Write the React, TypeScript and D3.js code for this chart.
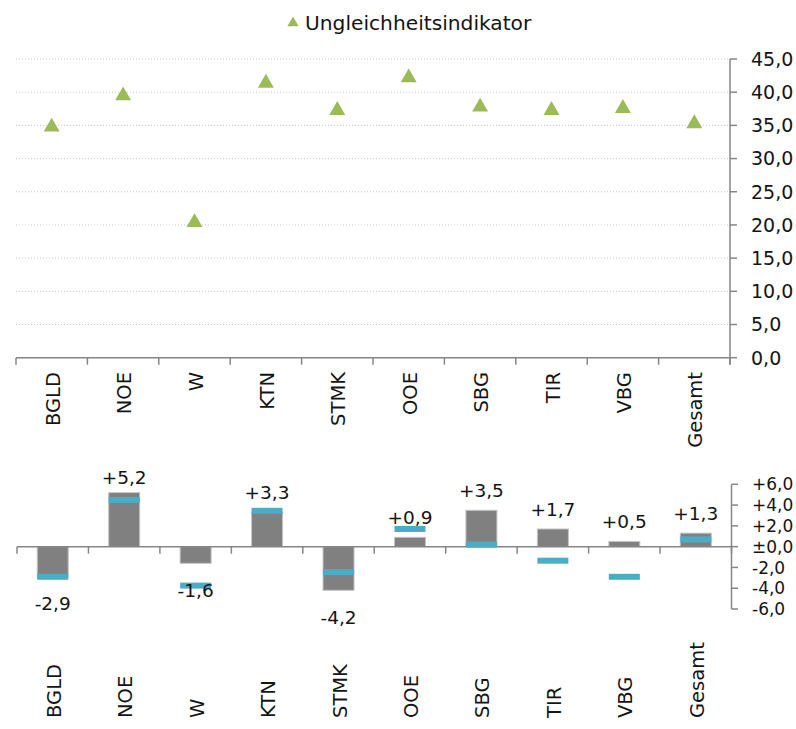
import React from "react";
import * as d3 from "d3";

const categories = ["BGLD", "NOE", "W", "KTN", "STMK", "OOE", "SBG", "TIR", "VBG", "Gesamt"];
const indicator = [35.0, 39.7, 20.6, 41.6, 37.5, 42.4, 38.0, 37.5, 37.8, 35.5];
const changeBars = [-2.9, 5.2, -1.6, 3.3, -4.2, 0.9, 3.5, 1.7, 0.5, 1.3];
const changeMarkers = [-2.9, 4.5, -3.75, 3.45, -2.45, 1.7, 0.2, -1.35, -2.9, 0.7];
const topTicks = [0, 5, 10, 15, 20, 25, 30, 35, 40, 45];
const bottomTicks = [-6, -4, -2, 0, 2, 4, 6];
const legendLabel = "Ungleichheitsindikator";

const locale = d3.formatLocale({
  decimal: ",",
  thousands: ".",
  grouping: [3],
  currency: ["", " €"],
  minus: "-",
});
const fmt1 = locale.format(".1f");
const fmtSigned = (v: number) => (v === 0 ? "±0,0" : locale.format("+.1f")(v));

const FONT = "'DejaVu Sans', sans-serif";
const GREEN = "#9bbb59";
const CYAN = "#4bacc6";
const AXIS = "#868686";
const TEXT = "#141414";

export default function App() {
  const W = 796;
  const H = 729;

  const xTop = d3.scaleBand<string>().domain(categories).range([16, 730]).padding(0);
  const yTop = d3.scaleLinear().domain([0, 45]).range([357.7, 59]);

  const xBot = d3.scaleBand<string>().domain(categories).range([17, 731.5]).padding(0);
  const yBot = d3.scaleLinear().domain([-6, 6]).range([609, 484.3]);

  const tri = d3.symbol().type(d3.symbolTriangle).size(110);
  const triLegend = d3.symbol().type(d3.symbolTriangle).size(55);

  const barW = 31;
  const markW = 31;
  const markH = 6;

  const boundaries = (x: d3.ScaleBand<string>) => {
    const arr = categories.map((c) => x(c) as number);
    arr.push(x.range()[1]);
    return arr;
  };

  return (
    <svg width={W} height={H} style={{ display: "block", position: "absolute", left: 0, top: 0 }} fontFamily={FONT}>
      <rect x={0} y={0} width={W} height={H} fill="#fff" />
      <g>
        <path d={triLegend() as string} transform="translate(293,23)" fill={GREEN} />
        <text x={305} y={30} fontSize={20.2} fill={TEXT}>
          {legendLabel}
        </text>
      </g>

      {topTicks.slice(1).map((t) => (
        <line
          key={"g" + t}
          x1={16}
          x2={730}
          y1={yTop(t)}
          y2={yTop(t)}
          stroke="#c8c8c8"
          strokeWidth={1}
          strokeDasharray="1,2"
        />
      ))}

      <line x1={16} x2={730} y1={yTop(0)} y2={yTop(0)} stroke={AXIS} strokeWidth={1.5} />
      {boundaries(xTop).map((bx, i) => (
        <line key={"tx" + i} x1={bx} x2={bx} y1={yTop(0)} y2={yTop(0) + 7} stroke={AXIS} strokeWidth={1.5} />
      ))}
      <line x1={730} x2={730} y1={yTop(45)} y2={yTop(0) + 7} stroke={AXIS} strokeWidth={1.5} />
      {topTicks.map((t) => (
        <g key={"ty" + t}>
          <line x1={730} x2={737} y1={yTop(t)} y2={yTop(t)} stroke={AXIS} strokeWidth={1.5} />
          <text x={751} y={yTop(t)} dy="0.36em" fontSize={19} fill={TEXT}>
            {fmt1(t)}
          </text>
        </g>
      ))}
      {categories.map((c) => {
        const cx = (xTop(c) as number) + xTop.bandwidth() / 2;
        return (
          <text
            key={"tc" + c}
            transform={`translate(${cx + 1},372) rotate(-90)`}
            textAnchor="end"
            dy="0.36em"
            fontSize={19.5}
            fill={TEXT}
          >
            {c}
          </text>
        );
      })}
      {categories.map((c, i) => {
        const cx = (xTop(c) as number) + xTop.bandwidth() / 2;
        return (
          <path key={"tri" + c} d={tri() as string} transform={`translate(${cx},${yTop(indicator[i]) + 1.5})`} fill={GREEN} />
        );
      })}

      {categories.map((c, i) => {
        const cx = (xBot(c) as number) + xBot.bandwidth() / 2;
        const v = changeBars[i];
        const y0 = yBot(0);
        const y1 = yBot(v);
        return (
          <rect
            key={"b" + c}
            x={cx - barW / 2}
            y={Math.min(y0, y1)}
            width={barW}
            height={Math.abs(y1 - y0)}
            fill="#808080"
            stroke="#c4c4c4"
            strokeWidth={1}
          />
        );
      })}
      <line x1={17} x2={731.5} y1={yBot(0)} y2={yBot(0)} stroke={AXIS} strokeWidth={1.5} />
      {boundaries(xBot).map((bx, i) => (
        <line key={"bx" + i} x1={bx} x2={bx} y1={yBot(0)} y2={yBot(0) + 7} stroke={AXIS} strokeWidth={1.5} />
      ))}
      {categories.map((c, i) => {
        const cx = (xBot(c) as number) + xBot.bandwidth() / 2;
        return (
          <rect
            key={"m" + c}
            x={cx - markW / 2}
            y={yBot(changeMarkers[i]) - markH / 2}
            width={markW}
            height={markH}
            fill={CYAN}
          />
        );
      })}
      <line x1={731.5} x2={731.5} y1={yBot(6)} y2={yBot(-6)} stroke={AXIS} strokeWidth={1.5} />
      {bottomTicks.map((t) => (
        <g key={"by" + t}>
          <line x1={731.5} x2={738} y1={yBot(t)} y2={yBot(t)} stroke={AXIS} strokeWidth={1.5} />
          <text x={752} y={yBot(t)} dy="0.36em" fontSize={17} fill={TEXT}>
            {fmtSigned(t)}
          </text>
        </g>
      ))}
      {categories.map((c, i) => {
        const cx = (xBot(c) as number) + xBot.bandwidth() / 2;
        const v = changeBars[i];
        const ly = v >= 0 ? Math.max(yBot(v) - 20, 477) : yBot(v) + 27;
        return (
          <text key={"dl" + c} x={cx} y={ly} dy="0.36em" textAnchor="middle" fontSize={18.5} fill={TEXT}>
            {fmtSigned(v)}
          </text>
        );
      })}
      {categories.map((c) => {
        const cx = (xBot(c) as number) + xBot.bandwidth() / 2;
        return (
          <text
            key={"bc" + c}
            transform={`translate(${cx + 1},718) rotate(-90)`}
            textAnchor="start"
            dy="0.36em"
            fontSize={19.5}
            fill={TEXT}
          >
            {c}
          </text>
        );
      })}
    </svg>
  );
}
